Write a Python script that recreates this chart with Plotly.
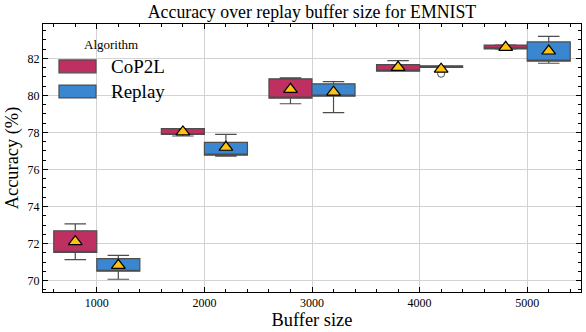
import plotly.graph_objects as go

buffer_sizes = [1000, 2000, 3000, 4000, 5000]
algorithms = ["CoP2L", "Replay"]
colors = ["#BE2F62", "#3A86D0"]

cop2l_lower = [71.13, 77.81, 79.55, 81.31, 82.50]
cop2l_q1 = [71.52, 77.89, 79.85, 81.31, 82.52]
cop2l_q3 = [72.69, 78.21, 80.90, 81.67, 82.72]
cop2l_upper = [73.06, 78.21, 80.95, 81.88, 82.74]
cop2l_mean = [72.10, 78.03, 80.33, 81.52, 82.60]

replay_lower = [70.07, 76.72, 79.07, 81.52, 81.74]
replay_q1 = [70.50, 76.77, 79.96, 81.52, 81.85]
replay_q3 = [71.18, 77.46, 80.63, 81.60, 82.89]
replay_upper = [71.36, 77.90, 80.75, 81.60, 83.19]
replay_mean = [70.82, 77.20, 80.18, 81.42, 82.40]

replay_outlier_sizes = [4000]
replay_outlier_values = [81.17]

stats = {
    "CoP2L": (cop2l_lower, cop2l_q1, cop2l_q3, cop2l_upper, cop2l_mean, [], []),
    "Replay": (replay_lower, replay_q1, replay_q3, replay_upper, replay_mean,
               replay_outlier_sizes, replay_outlier_values),
}

xpos = list(range(len(buffer_sizes)))
box_w = 0.4
edge = "#4d4d4d"

fig = go.Figure()
for k, (alg, col) in enumerate(zip(algorithms, colors)):
    lo, q1, q3, up, mn, ox, oy = stats[alg]
    fig.add_trace(go.Box(
        x=xpos, q1=q1, median=q1, q3=q3, lowerfence=lo, upperfence=up,
        name=alg, offsetgroup=alg, fillcolor=col,
        line=dict(color=edge, width=1.2), whiskerwidth=0.5,
        boxpoints=False, showlegend=False, hoverinfo="skip",
    ))

for k, alg in enumerate(algorithms):
    lo, q1, q3, up, mn, ox, oy = stats[alg]
    off = (k - 0.5) * box_w
    if ox:
        fig.add_trace(go.Scatter(
            x=[buffer_sizes.index(s) + off for s in ox], y=oy, mode="markers",
            marker=dict(symbol="circle-open", size=7, color=edge, line=dict(width=1)),
            showlegend=False, hoverinfo="skip"))
    fig.add_trace(go.Scatter(
        x=[i + off for i in xpos], y=mn, mode="markers",
        marker=dict(symbol="triangle-up", size=12, color="#FFC20E",
                    line=dict(color="black", width=1.2)),
        showlegend=False, hoverinfo="skip"))

font = "Liberation Serif"
fig.update_layout(
    width=586, height=332,
    margin=dict(l=43, r=5, t=24, b=40),
    paper_bgcolor="white", plot_bgcolor="white",
    boxmode="group", boxgap=0.2, boxgroupgap=0,
    font=dict(family=font, color="black", size=12),
    title=dict(text="Accuracy over replay buffer size for EMNIST",
               xref="paper", x=0.5, xanchor="center", y=0.966, yanchor="middle",
               font=dict(size=17.8, family=font)),
)
axis_common = dict(
    showline=True, linecolor="black", linewidth=1, mirror="allticks",
    ticks="inside", ticklen=5, tickwidth=1, tickcolor="black",
    showgrid=True, gridcolor="#d3d3d3", gridwidth=1, zeroline=False,
    tickfont=dict(size=12, family=font),
)
fig.update_xaxes(
    range=[-0.5, len(buffer_sizes) - 0.5],
    tickmode="array", tickvals=xpos, ticktext=[str(b) for b in buffer_sizes],
    title=dict(text="Buffer size", font=dict(size=18.4, family=font), standoff=2),
    minor=dict(dtick=0.2, tick0=0, ticks="inside", ticklen=3, tickcolor="black", showgrid=False),
    **axis_common,
)
fig.update_yaxes(
    range=[69.38, 83.86], dtick=2, tick0=70,
    title=dict(text="Accuracy (%)", font=dict(size=18.4, family=font), standoff=4),
    minor=dict(dtick=0.5, tick0=70, ticks="inside", ticklen=3, tickcolor="black", showgrid=False),
    **axis_common,
)

# legend (drawn in paper coordinates)
legend_y = [(0.866, 0.818), (0.772, 0.724)]
for (alg, col), (y1, y0) in zip(zip(algorithms, colors), legend_y):
    fig.add_shape(type="rect", xref="paper", yref="paper",
                  x0=0.0297, x1=0.0985, y0=y0, y1=y1,
                  fillcolor=col, line=dict(color=edge, width=1.2))
    fig.add_annotation(xref="paper", yref="paper", x=0.122, y=(y0 + y1) / 2,
                       text=alg, showarrow=False, xanchor="left", yanchor="middle",
                       font=dict(size=19, family=font))
fig.add_annotation(xref="paper", yref="paper", x=0.127, y=0.922, text="Algorithm",
                   showarrow=False, xanchor="center", yanchor="middle",
                   font=dict(size=13, family=font))

fig.write_html("out.html", config={"displayModeBar": False},
               post_script="document.body.style.margin='0';")
